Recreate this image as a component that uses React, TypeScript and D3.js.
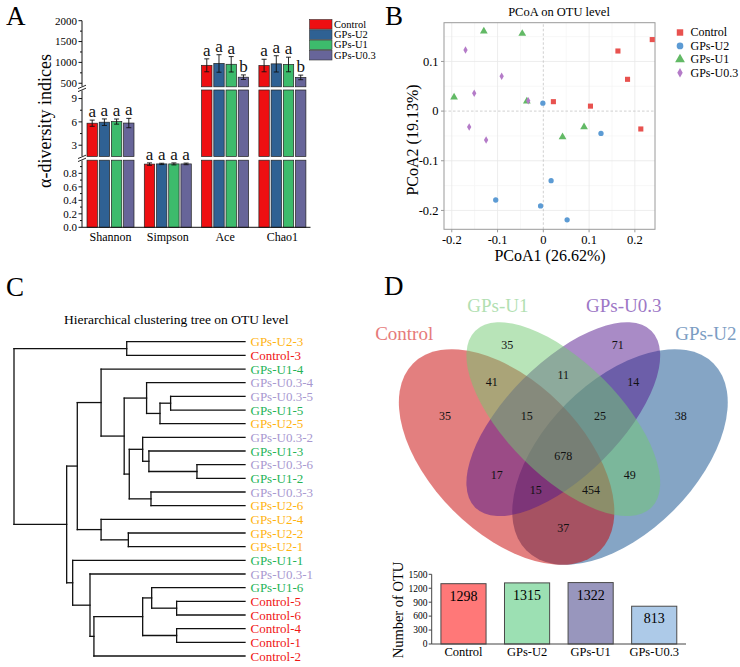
import React from 'react';
import * as d3 from 'd3';

const FONT = "'Liberation Serif', 'Times New Roman', serif";

// ---------- Panel A data ----------
const alphaIndices = ['Shannon', 'Simpson', 'Ace', 'Chao1'];
const alphaGroups = ['Control', 'GPs-U2', 'GPs-U1', 'GPs-U0.3'];
const alphaColors = ['#ee0f12', '#2f6193', '#3dbb6c', '#676599'];
const shannonMean = [5.83, 5.96, 6.04, 5.85];
const shannonErr = [0.4, 0.42, 0.33, 0.6];
const simpsonMean = [0.937, 0.94, 0.94, 0.94];
const simpsonErr = [0.018, 0.01, 0.015, 0.012];
const aceMean = [930, 975, 955, 645];
const aceErr = [155, 210, 185, 55];
const chao1Mean = [925, 965, 950, 640];
const chao1Err = [150, 195, 175, 55];
const shannonLetters = ['a', 'a', 'a', 'a'];
const simpsonLetters = ['a', 'a', 'a', 'a'];
const aceLetters = ['a', 'a', 'a', 'b'];
const chao1Letters = ['a', 'a', 'a', 'b'];
const lowTicks = [0, 0.2, 0.4, 0.6, 0.8];
const lowMinor = [0.1, 0.3, 0.5, 0.7, 0.9];
const midTicks = [3, 6, 9];
const midMinor = [4.5, 7.5];
const highTicks = [500, 1000, 1500, 2000];
const highMinor = [750, 1250, 1750];

// ---------- Panel B data ----------
const pcoaGroups = ['Control', 'GPs-U2', 'GPs-U1', 'GPs-U0.3'];
const pcoaColors = ['#e8524f', '#5c9bd4', '#62b965', '#b47bc8'];
const pcoaControlX = [0.238, 0.163, 0.184, 0.022, 0.103, 0.213];
const pcoaControlY = [0.144, 0.121, 0.064, 0.019, 0.010, -0.036];
const pcoaU2X = [-0.001, 0.126, 0.017, -0.104, -0.006, 0.052];
const pcoaU2Y = [0.016, -0.045, -0.140, -0.179, -0.191, -0.219];
const pcoaU1X = [-0.130, -0.046, -0.195, -0.036, 0.089, 0.042];
const pcoaU1Y = [0.161, 0.156, 0.028, 0.020, -0.032, -0.052];
const pcoaU03X = [-0.170, -0.091, -0.151, -0.033, -0.162, -0.125];
const pcoaU03Y = [0.123, 0.070, 0.036, 0.021, -0.032, -0.058];
const pcoaXTicks = [-0.2, -0.1, 0, 0.1, 0.2];
const pcoaYTicks = [-0.2, -0.1, 0, 0.1];
const pcoaMinor = [-0.15, -0.05, 0.05, 0.15];

// ---------- Panel C data ----------
type TNode = string | { h: number; c: TNode[] };
const n = (h: number, ...c: TNode[]): TNode => ({ h, c });
const clusterTree: TNode = n(1.0,
  n(0.512, 'GPs-U2-3', 'Control-3'),
  n(0.772,
    n(0.726,
      n(0.623,
        'GPs-U1-4',
        n(0.523,
          n(0.426, 'GPs-U0.3-4', n(0.368, n(0.322, 'GPs-U0.3-5', 'GPs-U1-5'), 'GPs-U2-5')),
          n(0.501,
            n(0.443, 'GPs-U0.3-2', n(0.416, 'GPs-U1-3', n(0.208, 'GPs-U0.3-6', 'GPs-U1-2'))),
            n(0.407, 'GPs-U0.3-3', 'GPs-U2-6')))),
      n(0.623, 'GPs-U2-4', n(0.505, 'GPs-U2-2', 'GPs-U2-1'))),
    n(0.746,
      'GPs-U1-1',
      n(0.671,
        'GPs-U0.3-1',
        n(0.654,
          n(0.443,
            n(0.404, 'GPs-U1-6', n(0.296, 'Control-5', 'Control-6')),
            n(0.296, 'Control-4', 'Control-1')),
          'Control-2')))));
const leafGroupPrefixes = ['Control', 'GPs-U2-', 'GPs-U1-', 'GPs-U0.3-'];
const leafGroupColors = ['#f01515', '#ffb310', '#25b356', '#a898d0'];

// ---------- Panel D data ----------
const vennSets = ['Control', 'GPs-U1', 'GPs-U0.3', 'GPs-U2'];
const vennFill = ['#c80000', '#71c971', '#53178d', '#0b4b8b'];
const vennLabelColors = ['#e67a7a', '#b2dfb2', '#9d78c6', '#7b9dc3'];
const vennCx = [0.35, 0.5, 0.5, 0.65];
const vennCy = [0.47, 0.57, 0.57, 0.47];
const vennA = [0.35, 0.33, 0.33, 0.35];
const vennB = [0.2, 0.15, 0.15, 0.2];
const vennAngle = [45, 45, -45, -45];
const vennDrawOrder = [3, 0, 2, 1];
const vennSetLabelU = [0.079, 0.327, 0.66, 0.877];
const vennSetLabelV = [0.798, 0.872, 0.872, 0.798];
const vennCounts = [35, 35, 71, 38, 41, 11, 14, 15, 25, 678, 17, 49, 15, 454, 37];
const vennCountU = [0.187, 0.352, 0.644, 0.811, 0.311, 0.5, 0.685, 0.403, 0.597, 0.5, 0.324, 0.676, 0.427, 0.573, 0.5];
const vennCountV = [0.578, 0.766, 0.766, 0.578, 0.669, 0.687, 0.669, 0.578, 0.578, 0.473, 0.424, 0.424, 0.383, 0.383, 0.283];
const otuGroups = ['Control', 'GPs-U2', 'GPs-U1', 'GPs-U0.3'];
const otuCounts = [1298, 1315, 1322, 813];
const otuColors = ['#ff7878', '#9ce0b3', '#9896bd', '#adcae8'];
const otuTicks = [0, 300, 600, 900, 1200, 1500];

function PanelA() {
  const x0 = d3.scaleBand<string>().domain(alphaIndices).range([81.85, 311.05]);
  const x1 = d3.scaleBand<string>().domain(alphaGroups).range([-23.5, 23.5]).paddingInner(0.15);
  const segs = [
    { sc: d3.scaleLinear().domain([0, 0.995]).range([227.3, 160.2]), major: lowTicks, minor: lowMinor, fmt: d3.format('.1f') },
    { sc: d3.scaleLinear().domain([1.55, 10.1]).range([156.5, 90]), major: midTicks, minor: midMinor, fmt: d3.format('d') },
    { sc: d3.scaleLinear().domain([415, 2000]).range([86.8, 20.7]), major: highTicks, minor: highMinor, fmt: d3.format('d') },
  ];
  const idx = [
    { name: 'Shannon', seg: 1, mean: shannonMean, err: shannonErr, letters: shannonLetters },
    { name: 'Simpson', seg: 0, mean: simpsonMean, err: simpsonErr, letters: simpsonLetters },
    { name: 'Ace', seg: 2, mean: aceMean, err: aceErr, letters: aceLetters },
    { name: 'Chao1', seg: 2, mean: chao1Mean, err: chao1Err, letters: chao1Letters },
  ];
  const axX = 82;
  const bars: JSX.Element[] = [];
  const errs: JSX.Element[] = [];
  idx.forEach((d) => {
    alphaGroups.forEach((g, gi) => {
      const bx = (x0(d.name) as number) + x0.bandwidth() / 2 + (x1(g) as number);
      const bw = x1.bandwidth();
      const v = d.mean[gi];
      for (let s = 0; s <= d.seg; s++) {
        const sc = segs[s].sc;
        const [d0, d1] = sc.domain();
        const top = s < d.seg ? d1 : v;
        bars.push(
          <rect key={`${d.name}-${g}-${s}`} x={bx} y={sc(top)} width={bw} height={sc(d0) - sc(top)}
            fill={alphaColors[gi]} stroke="#222" strokeWidth={0.7} />
        );
      }
      const sc = segs[d.seg].sc;
      const cx = bx + bw / 2;
      const e = d.err[gi];
      errs.push(
        <g key={`e-${d.name}-${g}`} stroke="#111" strokeWidth={0.9}>
          <line x1={cx} x2={cx} y1={sc(v - e)} y2={sc(v + e)} />
          <line x1={cx - 2.5} x2={cx + 2.5} y1={sc(v - e)} y2={sc(v - e)} />
          <line x1={cx - 2.5} x2={cx + 2.5} y1={sc(v + e)} y2={sc(v + e)} />
        </g>
      );
      errs.push(
        <text key={`l-${d.name}-${g}`} x={cx} y={sc(v + e) - 3} textAnchor="middle" fontSize={17} fill="#111">
          {d.letters[gi]}
        </text>
      );
    });
  });
  const breaks = [(segs[0].sc.range()[1] + segs[1].sc.range()[0]) / 2, (segs[1].sc.range()[1] + segs[2].sc.range()[0]) / 2];
  return (
    <g>
      <text x={6} y={25} fontSize={27}>A</text>
      {bars}
      {errs}
      {segs.map((s, i) => (
        <g key={`ax${i}`}>
          <line x1={axX} x2={axX} y1={s.sc.range()[0]} y2={s.sc.range()[1]} stroke="#111" strokeWidth={1} />
          {s.major.map((t) => (
            <g key={`mj${t}`}>
              <line x1={axX - 3.5} x2={axX} y1={s.sc(t)} y2={s.sc(t)} stroke="#111" />
              <text x={axX - 5} y={s.sc(t)} dy="0.35em" textAnchor="end" fontSize={11}>{s.fmt(t)}</text>
            </g>
          ))}
          {s.minor.map((t) => (
            <line key={`mn${t}`} x1={axX - 2} x2={axX} y1={s.sc(t)} y2={s.sc(t)} stroke="#111" />
          ))}
        </g>
      ))}
      {breaks.map((b, i) => (
        <g key={`br${i}`} stroke="#111" strokeWidth={0.9}>
          <line x1={axX} x2={axX} y1={b - 2} y2={b + 2} stroke="#fff" strokeWidth={3} />
          <line x1={axX - 4} x2={axX + 4} y1={b + 0.2} y2={b - 3.2} />
          <line x1={axX - 4} x2={axX + 4} y1={b + 3.2} y2={b - 0.2} />
        </g>
      ))}
      <line x1={axX} x2={310.5} y1={227.3} y2={227.3} stroke="#111" strokeWidth={1} />
      {alphaIndices.map((c) => (
        <text key={c} x={(x0(c) as number) + x0.bandwidth() / 2} y={241} textAnchor="middle" fontSize={12}>{c}</text>
      ))}
      <text transform="translate(50.5,121) rotate(-90)" textAnchor="middle" fontSize={18}>α-diversity indices</text>
      {alphaGroups.map((g, i) => (
        <g key={`lg${g}`}>
          <rect x={309.5} y={19.5 + i * 10.3} width={22.5} height={9.6} fill={alphaColors[i]} stroke="#333" strokeWidth={0.6} />
          <text x={334} y={27.6 + i * 10.3} fontSize={10.5}>{g}</text>
        </g>
      ))}
    </g>
  );
}

function PanelB() {
  const x = d3.scaleLinear().domain([-0.217, 0.244]).range([444, 655]);
  const y = d3.scaleLinear().domain([-0.238, 0.178]).range([229.3, 22.7]);
  const series = [
    { xs: pcoaControlX, ys: pcoaControlY, sym: d3.symbolSquare, size: 26 },
    { xs: pcoaU2X, ys: pcoaU2Y, sym: d3.symbolCircle, size: 22 },
    { xs: pcoaU1X, ys: pcoaU1Y, sym: d3.symbolTriangle, size: 26 },
    { xs: pcoaU03X, ys: pcoaU03Y, sym: d3.symbolDiamond, size: 16 },
  ];
  const [x0, x1] = x.range();
  const [y0, y1] = y.range();
  return (
    <g>
      <text x={385} y={25} fontSize={27}>B</text>
      <text x={559} y={15.5} textAnchor="middle" fontSize={12.5}>PCoA on OTU level</text>
      {pcoaMinor.map((t) => (
        <g key={`mn${t}`} stroke="#f3f3f3" strokeWidth={0.7}>
          <line x1={x(t)} x2={x(t)} y1={y0} y2={y1} />
          <line x1={x0} x2={x1} y1={y(t)} y2={y(t)} />
        </g>
      ))}
      {pcoaXTicks.filter((t) => t !== 0).map((t) => (
        <line key={`gx${t}`} x1={x(t)} x2={x(t)} y1={y0} y2={y1} stroke="#e8e8e8" strokeWidth={0.8} />
      ))}
      {pcoaYTicks.filter((t) => t !== 0).map((t) => (
        <line key={`gy${t}`} x1={x0} x2={x1} y1={y(t)} y2={y(t)} stroke="#e8e8e8" strokeWidth={0.8} />
      ))}
      <line x1={x(0)} x2={x(0)} y1={y0} y2={y1} stroke="#c4c4c4" strokeWidth={0.8} strokeDasharray="2.5,2" />
      <line x1={x0} x2={x1} y1={y(0)} y2={y(0)} stroke="#c4c4c4" strokeWidth={0.8} strokeDasharray="2.5,2" />
      <rect x={x0} y={y1} width={x1 - x0} height={y0 - y1} fill="none" stroke="#9a9a9a" strokeWidth={1} />
      {pcoaXTicks.map((t) => (
        <g key={`xt${t}`}>
          <line x1={x(t)} x2={x(t)} y1={y0} y2={y0 + 3} stroke="#9a9a9a" />
          <text x={x(t)} y={244} textAnchor="middle" fontSize={12.5}>{t === 0 ? '0' : d3.format('.1f')(t).replace('−', '-')}</text>
        </g>
      ))}
      {pcoaYTicks.map((t) => (
        <g key={`yt${t}`}>
          <line x1={x0 - 3} x2={x0} y1={y(t)} y2={y(t)} stroke="#9a9a9a" />
          <text x={438.5} y={y(t)} dy="0.35em" textAnchor="end" fontSize={12.5}>{t === 0 ? '0' : d3.format('.1f')(t).replace('−', '-')}</text>
        </g>
      ))}
      {series.map((s, si) =>
        s.xs.map((xv, i) => (
          <path key={`p${si}-${i}`} d={d3.symbol().type(s.sym).size(s.size)() as string}
            transform={`translate(${x(xv)},${y(s.ys[i])})`} fill={pcoaColors[si]} />
        ))
      )}
      <text x={550} y={261} textAnchor="middle" fontSize={16}>PCoA1 (26.62%)</text>
      <text transform="translate(417.5,140) rotate(-90)" textAnchor="middle" fontSize={16}>PCoA2  (19.13%)</text>
      {pcoaGroups.map((g, i) => (
        <g key={`lg${g}`}>
          <path d={d3.symbol().type(series[i].sym).size(series[i].size * 1.6)() as string}
            transform={`translate(680,${32.5 + i * 13.4})`} fill={pcoaColors[i]} />
          <text x={690.5} y={32.5 + i * 13.4} dy="0.33em" fontSize={12}>{g}</text>
        </g>
      ))}
    </g>
  );
}

function PanelC() {
  const root = d3.hierarchy<TNode>(clusterTree, (d) => (typeof d === 'string' ? null : d.c));
  const leaves = root.leaves();
  const yL = d3.scaleLinear().domain([0, leaves.length - 1]).range([341.7, 656]);
  const xH = d3.scaleLinear().domain([1, 0]).range([14, 245]);
  const pos = new Map<any, { x: number; y: number }>();
  leaves.forEach((l, i) => pos.set(l, { x: xH(0), y: yL(i) }));
  root.eachAfter((nd) => {
    if (nd.children) {
      const ys = nd.children.map((c) => pos.get(c)!.y);
      pos.set(nd, { x: xH((nd.data as any).h), y: (ys[0] + ys[ys.length - 1]) / 2 });
    }
  });
  const segs: JSX.Element[] = [];
  let k = 0;
  root.each((nd) => {
    if (!nd.children) return;
    const p = pos.get(nd)!;
    const cs = nd.children.map((c) => pos.get(c)!);
    segs.push(<line key={k++} x1={p.x} x2={p.x} y1={cs[0].y} y2={cs[cs.length - 1].y} />);
    cs.forEach((c) => segs.push(<line key={k++} x1={p.x} x2={c.x} y1={c.y} y2={c.y} />));
  });
  const colorOf = (name: string) => {
    let col = leafGroupColors[0];
    leafGroupPrefixes.forEach((pf, i) => { if (name.startsWith(pf)) col = leafGroupColors[i]; });
    return col;
  };
  return (
    <g>
      <text x={6} y={296} fontSize={27}>C</text>
      <text x={176.3} y={324} textAnchor="middle" fontSize={13.5}>Hierarchical clustering tree on OTU level</text>
      <g stroke="#111" strokeWidth={1.3} strokeLinecap="square">{segs}</g>
      {leaves.map((l, i) => (
        <text key={`lf${i}`} x={250.5} y={yL(i)} dy="0.35em" fontSize={13} fill={colorOf(l.data as string)}>{l.data as string}</text>
      ))}
    </g>
  );
}

function PanelD() {
  const vs = 378;
  const vx = d3.scaleLinear().domain([0, 1]).range([563.3 - vs / 2, 563.3 + vs / 2]);
  const vy = d3.scaleLinear().domain([0, 1]).range([457 + 0.47 * vs, 457 - 0.53 * vs]);
  const bx = d3.scaleBand<string>().domain(otuGroups).range([431.7, 686]).paddingInner(0.29).paddingOuter(0.145);
  const by = d3.scaleLinear().domain([0, 1500]).range([644, 574.3]);
  return (
    <g>
      <text x={384} y={295} fontSize={27}>D</text>
      {vennDrawOrder.map((i) => (
        <ellipse key={`el${i}`} cx={0} cy={0} rx={vennA[i] * vs} ry={vennB[i] * vs}
          transform={`translate(${vx(vennCx[i])},${vy(vennCy[i])}) rotate(${vennAngle[i]})`}
          fill={vennFill[i]} fillOpacity={0.5} />
      ))}
      {vennSets.map((s, i) => (
        <text key={`vs${s}`} x={vx(vennSetLabelU[i])} y={vy(vennSetLabelV[i])} dy="0.35em" textAnchor="middle"
          fontSize={19} fill={vennLabelColors[i]}>{s}</text>
      ))}
      {vennCounts.map((c, i) => (
        <text key={`vc${i}`} x={vx(vennCountU[i])} y={vy(vennCountV[i])} dy="0.35em" textAnchor="middle" fontSize={12} fill="#111">{c}</text>
      ))}
      {otuGroups.map((g, i) => (
        <g key={`ob${g}`}>
          <rect x={bx(g)} y={by(otuCounts[i])} width={bx.bandwidth()} height={by(0) - by(otuCounts[i])}
            fill={otuColors[i]} stroke="#4a4a4a" strokeWidth={1} />
          <text x={(bx(g) as number) + bx.bandwidth() / 2} y={by(otuCounts[i]) + 17} textAnchor="middle" fontSize={14}>{otuCounts[i]}</text>
          <text x={(bx(g) as number) + bx.bandwidth() / 2} y={655.5} textAnchor="middle" fontSize={12.5}>{g}</text>
        </g>
      ))}
      <line x1={431.7} x2={431.7} y1={by(0)} y2={by(1500)} stroke="#444" />
      <line x1={431.7} x2={686} y1={by(0)} y2={by(0)} stroke="#444" />
      {otuTicks.map((t) => (
        <g key={`ot${t}`}>
          <line x1={428.7} x2={431.7} y1={by(t)} y2={by(t)} stroke="#444" />
          <text x={427.5} y={by(t)} dy="0.35em" textAnchor="end" fontSize={9.5}>{t}</text>
        </g>
      ))}
      <text transform="translate(403,610) rotate(-90)" textAnchor="middle" fontSize={14.5}>Number of OTU</text>
    </g>
  );
}

export default function App() {
  return (
    <svg width={740} height={667} style={{ position: 'absolute', left: 0, top: 0, background: '#fff' }} fontFamily={FONT}>
      <rect x={0} y={0} width={740} height={667} fill="#fff" />
      <PanelA />
      <PanelB />
      <PanelC />
      <PanelD />
    </svg>
  );
}
